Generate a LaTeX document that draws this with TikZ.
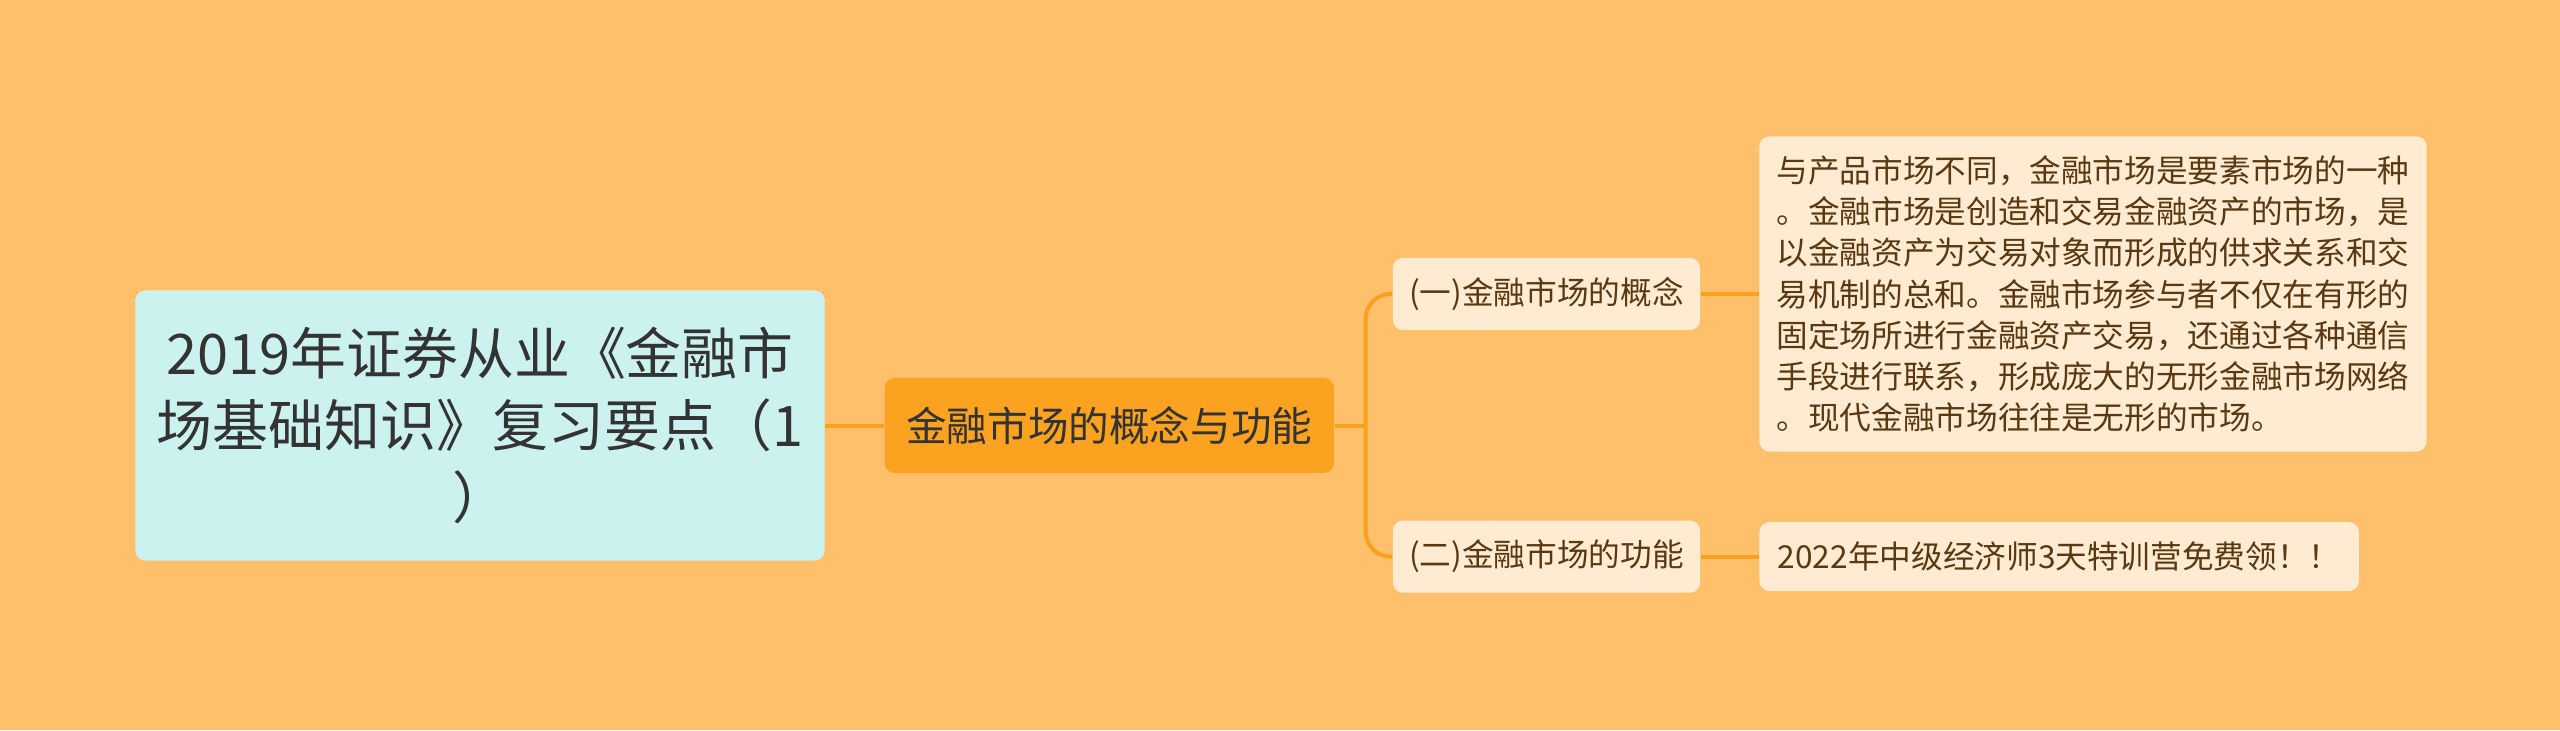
\documentclass[tikz,border=0pt]{standalone}
\usepackage{fontspec}
\usepackage{xcolor}
\usepackage{tikz}
\usetikzlibrary{positioning, calc}
\newfontfamily\cjk{Noto Sans CJK SC}
\definecolor{paper}{HTML}{FEC06B}
\definecolor{rootfill}{HTML}{CCF2F0}
\definecolor{midfill}{HTML}{FBA221}
\definecolor{leaffill}{HTML}{FFEBD2}
\definecolor{linkcol}{HTML}{F9A11C}
\definecolor{darktext}{HTML}{333333}
\definecolor{browntext}{HTML}{5A3812}

\begin{document}
\begin{tikzpicture}[
    x=0.01cm, y=-0.01cm,
    every node/.style={font=\cjk},
    rootbox/.style={rectangle, rounded corners=1mm, fill=rootfill,
                    text=darktext, align=center, minimum width=6.89cm,
                    minimum height=2.70cm, font=\cjk\fontsize{15.9}{20.5}\selectfont},
    midbox/.style={rectangle, rounded corners=1mm, fill=midfill,
                   text=darktext, minimum width=4.49cm, minimum height=0.95cm,
                   font=\cjk\fontsize{11.55}{14}\selectfont},
    subbox/.style={rectangle, rounded corners=1mm, fill=leaffill,
                   text=browntext, minimum width=3.07cm, minimum height=0.72cm,
                   inner xsep=0.1cm, font=\cjk\fontsize{9}{11.75}\selectfont},
    leafbox/.style={rectangle, rounded corners=1mm, fill=leaffill,
                    text=browntext, align=left, inner xsep=0.17cm,
                    font=\cjk\fontsize{9}{11.75}\selectfont},
    link/.style={draw=linkcol, line width=0.04cm}
]

% background
\fill[paper] (0,0) rectangle (2560,730);

\node[rootbox] (root) at (480,425.5)
     {2019年证券从业《金融市\\场基础知识》复习要点（1\\）};

\node[midbox, right=0.585cm of root] (mid) {金融市场的概念与功能};

\node[subbox, right=0.575cm of mid.east, yshift=1.315cm] (concept) {(一)金融市场的概念};
\node[subbox, right=0.575cm of mid.east, yshift=-1.31cm] (function) {(二)金融市场的功能};

\node[leafbox, right=0.58cm of concept, minimum width=6.65cm, minimum height=3.15cm] (define)
     {与产品市场不同，金融市场是要素市场的一种\\
      。金融市场是创造和交易金融资产的市场，是\\
      以金融资产为交易对象而形成的供求关系和交\\
      易机制的总和。金融市场参与者不仅在有形的\\
      固定场所进行金融资产交易，还通过各种通信\\
      手段进行联系，形成庞大的无形金融市场网络\\
      。现代金融市场往往是无形的市场。};
\node[leafbox, right=0.58cm of function, minimum width=5.99cm, minimum height=0.69cm] (promo)
     {2022年中级经济师3天特训营免费领！！};

\coordinate (fork) at ([xshift=0.31cm]mid.east);

\draw[link] (root) -- (mid);
\draw[link] (mid.east) -- (fork);
\draw[link, rounded corners=0.25cm] (fork) |- (concept.west);
\draw[link, rounded corners=0.25cm] (fork) |- (function.west);
\draw[link] (concept) -- (define);
\draw[link] (function) -- (promo);

\end{tikzpicture}
\end{document}
